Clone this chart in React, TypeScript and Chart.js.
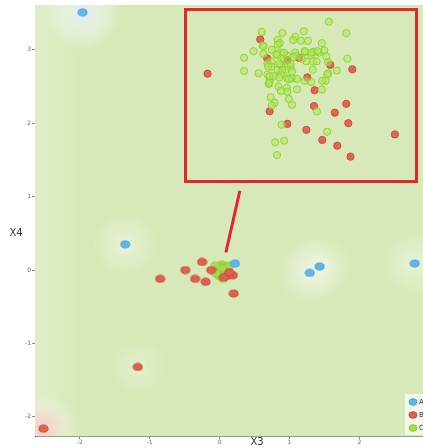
import React, { useEffect, useRef } from "react";
import { Chart, registerables } from "chart.js";

Chart.register(...registerables);

// ---------- data ----------
const X_TICKS = [-2, -1, 0, 1, 2];
const Y_TICKS = [-2, -1, 0, 1, 2, 3];
const X_RANGE = [-2.64, 3.51];
const Y_RANGE = [-2.26, 3.61];
const X_TITLE = "X3";
const Y_TITLE = "X4";
const LEGEND_LABELS = ["A", "B", "C"];

const A_X = [-1.96, -1.35, 0.22, 1.29, 1.43, 2.79];
const A_Y = [3.51, 0.35, 0.09, -0.04, 0.05, 0.09];

const B_X = [-2.52, -1.17, -0.85, -0.49, -0.25, -0.35, -0.2, -0.12, 0.2, 0.11, 0.19, 0.06, 0.14];
const B_Y = [-2.16, -1.32, -0.12, 0.0, 0.11, -0.12, -0.16, 0.0, -0.32, -0.08, -0.07, -0.1, -0.03];

const C_X = [0.0, 0.03, 0.06, 0.09, -0.03, 0.01, 0.05, 0.08, 0.11, -0.02, 0.02, 0.06, 0.1, 0.0, 0.04, 0.07, -0.05, 0.13, 0.03, 0.05, -0.06, 0.12];
const C_Y = [0.05, 0.07, 0.06, 0.04, 0.02, 0.0, 0.02, 0.0, 0.03, -0.03, -0.05, -0.03, -0.02, -0.08, -0.1, -0.07, -0.05, 0.06, 0.03, -0.12, 0.06, -0.06];

const POINTER_X = [0.29, 0.09];
const POINTER_Y = [1.08, 0.24];

// inset (zoomed view of the cluster), in its own units
const INSET_X_RANGE = [0, 10];
const INSET_Y_RANGE = [0, 7.5];

const INSET_B_X = [0.83, 3.18, 3.49, 4.91, 6.31, 7.29, 5.28, 5.61, 7.02, 5.58, 3.6, 6.51, 4.39, 7.11, 5.24, 9.19, 5.95, 6.62, 7.21, 4.4];
const INSET_B_Y = [4.74, 6.3, 5.44, 5.46, 5.14, 4.94, 4.57, 3.99, 3.37, 3.27, 3.03, 2.97, 2.46, 2.49, 2.19, 1.98, 1.73, 1.47, 0.97, 5.36];

const INSET_C_X = [
  6.24, 3.25, 5.13, 4.17, 7.02, 4.74, 3.96, 4.64, 4.99, 5.31, 4.05, 3.28, 5.93, 2.88, 3.7, 3.32, 4.1, 4.74, 5.17, 5.56,
  5.81, 6.04, 3.96, 4.39, 4.79, 2.46, 5.46, 6.13, 7.07, 4.22, 3.68, 3.5, 4.1, 4.53, 5.24, 5.53, 5.7, 6.21, 3.68, 3.96,
  4.33, 2.46, 3.11, 3.5, 5.53, 6.21, 6.6, 3.75, 4.1, 4.39, 4.6, 4.82, 3.6, 3.56, 5.17, 5.46, 6.1, 3.99, 4.36, 4.82,
  5.93, 4.1, 4.39, 3.65, 3.82, 3.7, 4.46, 4.6, 5.71, 4.13, 6.17, 4.25, 3.85, 3.93,
  3.59, 4.03, 4.46, 3.59, 3.96, 3.33, 3.89, 4.24, 4.67, 4.53, 4.03, 3.53, 4.17, 4.6, 5.03, 5.74, 5.46, 5.17, 5.95, 6.17,
];
const INSET_C_Y = [
  7.1, 6.64, 6.67, 6.59, 6.59, 6.42, 6.27, 6.27, 6.24, 6.23, 6.13, 6.02, 6.13, 5.76, 5.82, 5.64, 5.7, 5.7, 5.73, 5.74,
  5.7, 5.8, 5.59, 5.56, 5.56, 5.46, 5.59, 5.53, 5.42, 5.3, 5.3, 5.2, 5.13, 5.06, 5.3, 5.3, 5.3, 5.27, 5.06, 4.92,
  4.92, 4.86, 4.76, 4.7, 4.92, 4.76, 4.89, 4.63, 4.7, 4.53, 4.53, 4.5, 4.42, 4.27, 4.42, 4.36, 4.42, 4.16, 4.1, 4.03,
  4.02, 3.96, 3.92, 3.67, 3.42, 3.3, 3.59, 3.33, 3.03, 2.42, 2.1, 1.7, 1.62, 1.04,
  4.61, 4.56, 4.49, 4.33, 6.06, 5.99, 5.63, 5.7, 5.49, 5.2, 5.2, 5.06, 4.92, 4.84, 5.42, 5.77, 5.7, 5.77, 4.42, 4.7,
];

// ---------- styles ----------
const BG_GREEN = "#d8e9b9";
const BLUE = "#5db7ea";
const BLUE_EDGE = "#4a9fd8";
const RED = "#e0604e";
const RED_EDGE = "#c94a3c";
const GREEN = "#a6dc4c";
const GREEN_EDGE = "#8ccb30";
const POINTER_RED = "#e3262b";

const toPts = (xs: number[], ys: number[]) => xs.map((x, i) => ({ x, y: ys[i] }));

function ellipse(fill: string, stroke: string, w: number, h: number) {
  const c = document.createElement("canvas");
  c.width = w + 2;
  c.height = h + 2;
  const g = c.getContext("2d")!;
  g.beginPath();
  g.ellipse((w + 2) / 2, (h + 2) / 2, w / 2, h / 2, 0, 0, Math.PI * 2);
  g.fillStyle = fill;
  g.fill();
  g.lineWidth = 1;
  g.strokeStyle = stroke;
  g.stroke();
  return c;
}

const backgroundPlugin = {
  id: "bgHalos",
  beforeDatasetsDraw(chart: any) {
    const { ctx, chartArea: a, scales } = chart;
    const sx = scales.x;
    const sy = scales.y;
    ctx.save();
    ctx.beginPath();
    ctx.rect(a.left, a.top, a.right - a.left, a.bottom - a.top);
    ctx.clip();
    ctx.fillStyle = BG_GREEN;
    ctx.fillRect(a.left, a.top, a.right - a.left, a.bottom - a.top);
    // whitish fade near the left edge
    const lg = ctx.createLinearGradient(a.left, 0, a.left + 45, 0);
    lg.addColorStop(0, "rgba(255,255,255,0.22)");
    lg.addColorStop(1, "rgba(255,255,255,0)");
    ctx.fillStyle = lg;
    ctx.fillRect(a.left, a.top, 45, a.bottom - a.top);

    const halo = (x: number, y: number, r: number, c0: string, c1: string) => {
      const px = sx.getPixelForValue(x);
      const py = sy.getPixelForValue(y);
      const g = ctx.createRadialGradient(px, py, 0, px, py, r);
      g.addColorStop(0, c0);
      g.addColorStop(0.4, c1);
      g.addColorStop(1, "rgba(255,255,255,0)");
      ctx.fillStyle = g;
      ctx.beginPath();
      ctx.arc(px, py, r, 0, Math.PI * 2);
      ctx.fill();
    };
    A_X.forEach((x, i) => {
      if (i === 2) return;
      if (i === 0) halo(x, A_Y[i], 38, "rgba(222,236,252,0.95)", "rgba(236,244,246,0.6)");
      else halo(x, A_Y[i], 32, "rgba(248,251,245,0.6)", "rgba(244,248,236,0.3)");
    });
    halo(B_X[0], B_Y[0], 34, "rgba(248,200,200,0.95)", "rgba(246,218,212,0.6)");
    halo(B_X[1], B_Y[1], 28, "rgba(248,250,240,0.45)", "rgba(245,248,235,0.2)");
    ctx.restore();
  },
  afterDraw(chart: any) {
    const { ctx, chartArea: a } = chart;
    ctx.save();
    // axis titles
    ctx.fillStyle = "#333";
    ctx.font = "10px 'DejaVu Sans', sans-serif";
    ctx.textAlign = "center";
    ctx.textBaseline = "middle";
    ctx.fillText(Y_TITLE, 16, 233);
    ctx.fillText(X_TITLE, 257, 442);
    // legend
    const colors = [BLUE, RED, GREEN];
    const edges = [BLUE_EDGE, RED_EDGE, GREEN_EDGE];
    const lx = 405;
    const ly = 394;
    ctx.fillStyle = "rgba(255,255,255,0.7)";
    ctx.fillRect(lx, ly, 60, a.bottom - ly - 1);
    ctx.font = "7px 'DejaVu Sans', sans-serif";
    ctx.textAlign = "left";
    LEGEND_LABELS.forEach((lab, i) => {
      const cy = ly + 8 + i * 13;
      ctx.beginPath();
      ctx.ellipse(lx + 8, cy, 4, 3.3, 0, 0, Math.PI * 2);
      ctx.fillStyle = colors[i];
      ctx.fill();
      ctx.strokeStyle = edges[i];
      ctx.lineWidth = 1;
      ctx.stroke();
      ctx.fillStyle = "#333";
      ctx.fillText(lab, lx + 14, cy);
    });
    ctx.restore();
  },
};

const insetPlugin = {
  id: "insetFrame",
  beforeDraw(chart: any) {
    const { ctx, width, height } = chart;
    ctx.save();
    ctx.fillStyle = BG_GREEN;
    ctx.fillRect(0, 0, width, height);
    ctx.restore();
  },
  afterDraw(chart: any) {
    const { ctx, width, height } = chart;
    ctx.save();
    ctx.strokeStyle = POINTER_RED;
    ctx.lineWidth = 3;
    ctx.strokeRect(1.5, 1.5, width - 3, height - 3);
    ctx.restore();
  },
};

export default function App() {
  const mainRef = useRef<HTMLCanvasElement>(null);
  const insetRef = useRef<HTMLCanvasElement>(null);

  useEffect(() => {
    const blueImg = ellipse(BLUE, BLUE_EDGE, 9, 7);
    const redImg = ellipse(RED, RED_EDGE, 9, 7);
    const greenImg = ellipse("rgba(166,220,76,0.9)", GREEN_EDGE, 9, 7);

    const tickFont = { size: 6, family: "'DejaVu Sans', sans-serif" };
    const main = new Chart(mainRef.current!, {
      type: "scatter",
      data: {
        datasets: [
          { label: "pointer", data: toPts(POINTER_X, POINTER_Y), showLine: true, borderColor: POINTER_RED, borderWidth: 3, pointRadius: 0, pointHoverRadius: 0 } as any,
          { label: "A", data: toPts(A_X, A_Y), pointStyle: blueImg as any, backgroundColor: BLUE, borderColor: BLUE_EDGE },
          { label: "B", data: toPts(B_X, B_Y), pointStyle: redImg as any, backgroundColor: RED, borderColor: RED_EDGE },
          { label: "C", data: toPts(C_X, C_Y), pointStyle: greenImg as any, backgroundColor: GREEN, borderColor: GREEN_EDGE },
        ],
      },
      options: {
        responsive: false,
        animation: false,
        events: [],
        layout: { padding: { top: 2, left: 0, right: 0, bottom: 0 } },
        plugins: { legend: { display: false }, tooltip: { enabled: false } },
        scales: {
          x: {
            type: "linear",
            min: X_RANGE[0],
            max: X_RANGE[1],
            afterBuildTicks: (s: any) => { s.ticks = X_TICKS.map((v) => ({ value: v })); },
            afterFit: (s: any) => { s.height = 12; },
            ticks: { font: tickFont, color: "#666", padding: 0, maxRotation: 0, autoSkip: false },
            grid: { drawOnChartArea: false, drawTicks: true, tickLength: 3, color: "#888" },
            border: { display: true, color: "#999", width: 1 },
          },
          y: {
            type: "linear",
            min: Y_RANGE[0],
            max: Y_RANGE[1],
            afterBuildTicks: (s: any) => { s.ticks = Y_TICKS.map((v) => ({ value: v })); },
            afterFit: (s: any) => { s.width = 35; },
            ticks: { font: tickFont, color: "#666", padding: 1, autoSkip: false },
            grid: { drawOnChartArea: false, drawTicks: true, tickLength: 3, color: "#888" },
            border: { display: true, color: "#333", width: 1 },
          },
        },
      },
      plugins: [backgroundPlugin],
    });

    const inset = new Chart(insetRef.current!, {
      type: "scatter",
      data: {
        datasets: [
          { label: "C", data: toPts(INSET_C_X, INSET_C_Y), pointRadius: 3.6, backgroundColor: "rgba(176,230,90,0.55)", borderColor: "rgba(140,212,40,0.95)", borderWidth: 1 },
          { label: "B", data: toPts(INSET_B_X, INSET_B_Y), pointRadius: 3.6, backgroundColor: "rgba(224,96,78,0.95)", borderColor: "rgba(205,75,60,1)", borderWidth: 1 },
        ],
      },
      options: {
        responsive: false,
        animation: false,
        events: [],
        layout: { padding: 0 },
        plugins: { legend: { display: false }, tooltip: { enabled: false } },
        scales: {
          x: { type: "linear", display: false, min: INSET_X_RANGE[0], max: INSET_X_RANGE[1] },
          y: { type: "linear", display: false, min: INSET_Y_RANGE[0], max: INSET_Y_RANGE[1] },
        },
      },
      plugins: [insetPlugin],
    });

    return () => {
      main.destroy();
      inset.destroy();
    };
  }, []);

  return (
    <div style={{ position: "fixed", left: 0, top: 0, width: 470, height: 448, overflow: "hidden", background: "#fff" }}>
      <canvas ref={mainRef} width={470} height={448} style={{ position: "absolute", left: 0, top: 0 }} />
      <canvas ref={insetRef} width={234} height={175} style={{ position: "absolute", left: 184, top: 8 }} />
    </div>
  );
}
